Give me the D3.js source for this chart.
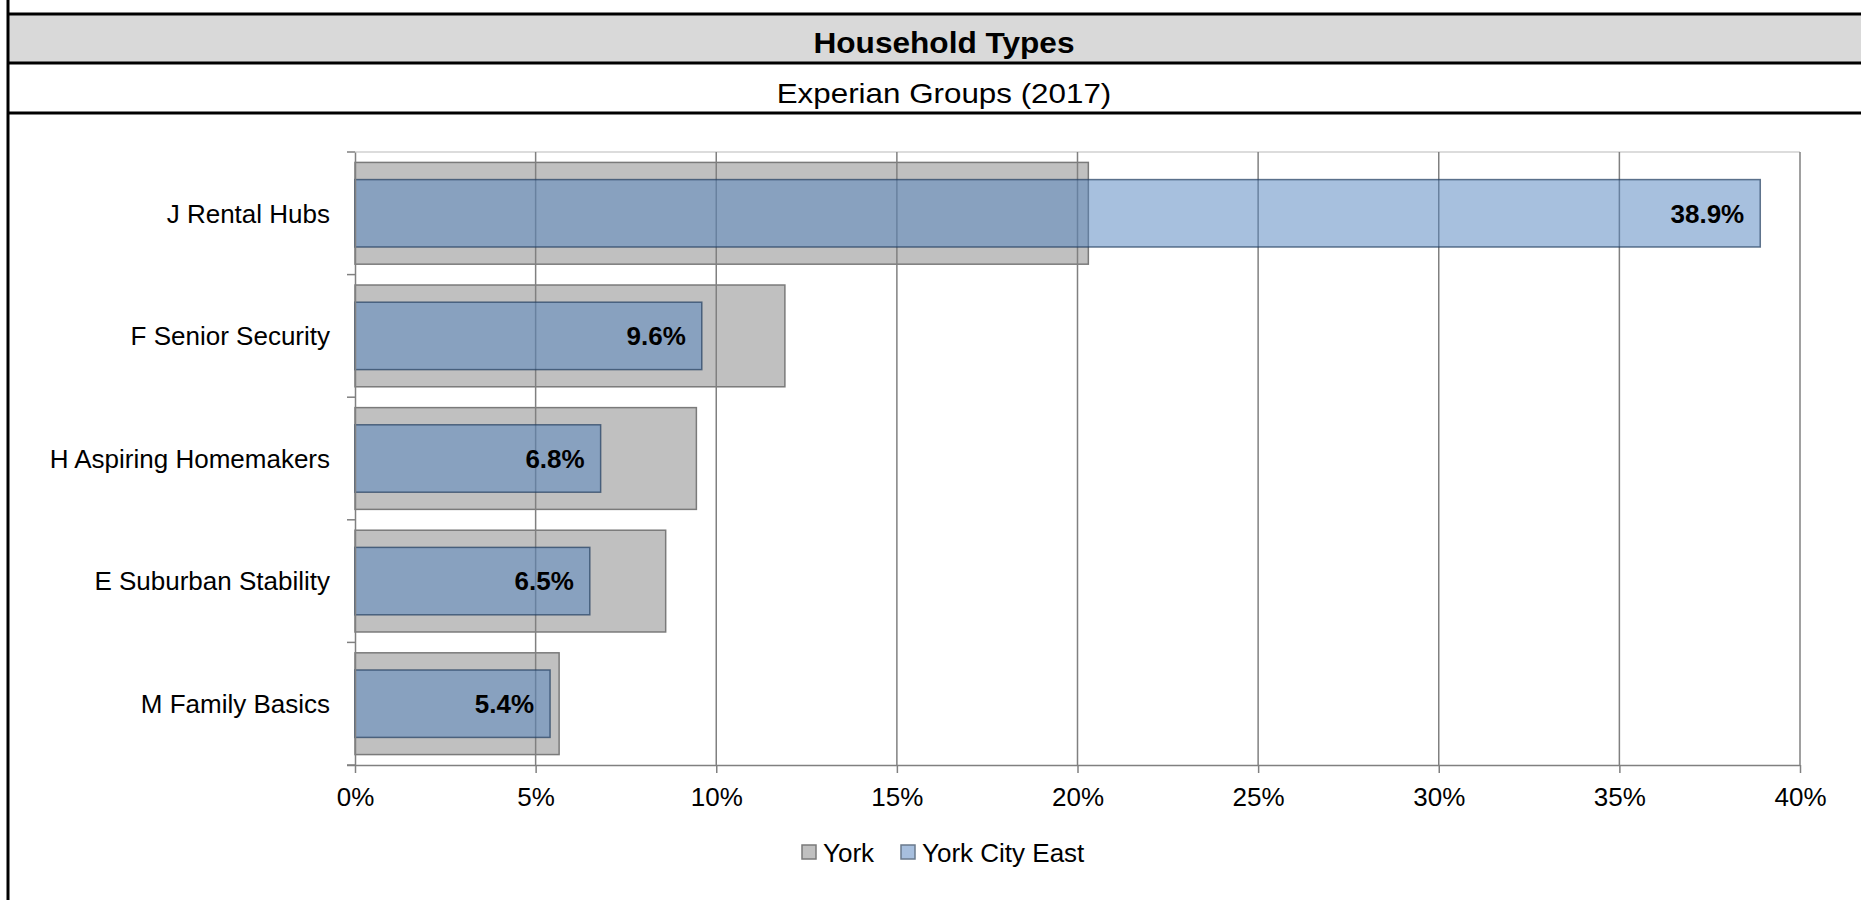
<!DOCTYPE html>
<html>
<head>
<meta charset="utf-8">
<script src="https://cdn.jsdelivr.net/npm/d3@7"></script>
<style>
  html, body { margin: 0; padding: 0; background: #fff; }
  svg { display: block; font-family: 'Liberation Sans', Arial, sans-serif; }
</style>
</head>
<body>
<div class="chart"></div>
<script>
'use strict'
// Data.
const categories = ['J Rental Hubs', 'F Senior Security', 'H Aspiring Homemakers', 'E Suburban Stability', 'M Family Basics'];
const yorkValues = [20.3, 11.9, 9.45, 8.6, 5.65];
const cityEastValues = [38.9, 9.6, 6.8, 6.5, 5.4];
const xTicks = [0, 5, 10, 15, 20, 25, 30, 35, 40];
const seriesNames = ['York', 'York City East'];

const W = 1861, H = 900;
const plot = {left: 355, right: 1800, top: 152, bottom: 765};

const svg = d3.select('.chart')
  .append('svg')
  .attr('width', W)
  .attr('height', H);

// HEADER BANDS
svg.append('rect')
  .attr('x', 8).attr('y', 14)
  .attr('width', W - 8).attr('height', 49)
  .style('fill', '#d9d9d9');

[14, 63, 113].forEach(y => {
  svg.append('line')
    .attr('x1', 8).attr('x2', W)
    .attr('y1', y).attr('y2', y)
    .style('stroke', '#000').style('stroke-width', 3);
});

svg.append('line')
  .attr('x1', 8).attr('x2', 8)
  .attr('y1', 0).attr('y2', H)
  .style('stroke', '#000').style('stroke-width', 3);

svg.append('text')
  .attr('transform', 'translate(944,53) scale(1.09,1)')
  .attr('text-anchor', 'middle')
  .style('font-size', '29px')
  .style('font-weight', 'bold')
  .text('Household Types');

svg.append('text')
  .attr('transform', 'translate(944,103) scale(1.12,1)')
  .attr('text-anchor', 'middle')
  .style('font-size', '28px')
  .text('Experian Groups (2017)');

// SCALES
const xScale = d3.scaleLinear([0, 40], [plot.left, plot.right]);
const yScale = d3.scaleBand(categories, [plot.top, plot.bottom])
  .paddingInner(0.17)
  .paddingOuter(0.085);
const yScale2 = d3.scaleBand(categories, [plot.top, plot.bottom])
  .paddingInner(0.45)
  .paddingOuter(0.225);

// PLOT TOP BORDER
svg.append('line')
  .attr('x1', plot.left).attr('x2', plot.right)
  .attr('y1', plot.top).attr('y2', plot.top)
  .style('stroke', '#d0d0d0').style('stroke-width', 1.5);

// YORK BARS
svg.selectAll('.bar-york')
  .data(categories)
  .enter()
  .append('rect')
  .attr('class', 'bar-york')
  .attr('x', xScale(0))
  .attr('y', d => yScale(d))
  .attr('width', (d, i) => xScale(yorkValues[i]) - xScale(0))
  .attr('height', yScale.bandwidth())
  .style('fill', '#c0c0c0')
  .style('stroke', '#7a7a7a')
  .style('stroke-width', 1.5);

// GRIDLINES
svg.append('g')
  .selectAll('line')
  .data(xTicks.slice(1))
  .enter()
  .append('line')
  .attr('x1', d => xScale(d)).attr('x2', d => xScale(d))
  .attr('y1', plot.top).attr('y2', plot.bottom)
  .style('stroke', '#808080')
  .style('stroke-width', 1.5);

// CITY EAST BARS
svg.selectAll('.bar-east')
  .data(categories)
  .enter()
  .append('rect')
  .attr('class', 'bar-east')
  .attr('x', xScale(0))
  .attr('y', d => yScale2(d))
  .attr('width', (d, i) => xScale(cityEastValues[i]) - xScale(0))
  .attr('height', yScale2.bandwidth())
  .style('fill', '#4f81bd')
  .style('fill-opacity', 0.5)
  .style('stroke', '#243f60')
  .style('stroke-opacity', 0.7)
  .style('stroke-width', 1.5);

// DATA LABELS
svg.selectAll('.label')
  .data(categories)
  .enter()
  .append('text')
  .attr('class', 'label')
  .attr('x', (d, i) => xScale(cityEastValues[i]) - 16)
  .attr('y', d => yScale2(d) + yScale2.bandwidth() / 2)
  .attr('dy', '0.36em')
  .attr('text-anchor', 'end')
  .style('font-size', '26px')
  .style('font-weight', 'bold')
  .text((d, i) => cityEastValues[i].toFixed(1) + '%');

// X AXIS
const xAxis = d3.axisBottom(xScale)
  .tickValues(xTicks)
  .tickFormat(d => d + '%')
  .tickSizeInner(8)
  .tickSizeOuter(0)
  .tickPadding(15);

const xAxisDraw = svg.append('g')
  .attr('transform', `translate(0, ${plot.bottom})`)
  .call(xAxis);
xAxisDraw.select('.domain')
  .attr('d', `M${plot.left - 8},0.5H${plot.right}`)
  .style('stroke', '#808080').style('stroke-width', 1.5);
xAxisDraw.selectAll('.tick line').style('stroke', '#808080').style('stroke-width', 1.5);
xAxisDraw.selectAll('text')
  .style('font-size', '26px')
  .style('font-family', "'Liberation Sans', Arial, sans-serif")
  .style('fill', '#000');

// Y AXIS
const yAxis = d3.axisLeft(yScale)
  .tickSize(0)
  .tickPadding(25);
const yAxisDraw = svg.append('g')
  .attr('transform', `translate(${plot.left}, 0)`)
  .call(yAxis);
yAxisDraw.select('.domain')
  .style('stroke', '#808080').style('stroke-width', 1.5);
yAxisDraw.selectAll('text')
  .attr('dy', '0.36em')
  .style('font-size', '26px')
  .style('font-family', "'Liberation Sans', Arial, sans-serif")
  .style('fill', '#000');

// category boundary ticks
yAxisDraw.selectAll('.bound')
  .data(d3.range(categories.length + 1))
  .enter()
  .append('line')
  .attr('class', 'bound')
  .attr('x1', -8).attr('x2', 0)
  .attr('y1', i => plot.top + i * yScale.step())
  .attr('y2', i => plot.top + i * yScale.step())
  .style('stroke', '#808080').style('stroke-width', 1.5);

// LEGEND
const legendItems = [
  {name: seriesNames[0], x: 802, fill: '#c0c0c0', stroke: '#7a7a7a'},
  {name: seriesNames[1], x: 901, fill: '#a7bfde', stroke: '#6a7a8c'}
];
const legend = svg.append('g').attr('class', 'legend');
legend.selectAll('rect')
  .data(legendItems)
  .enter()
  .append('rect')
  .attr('x', d => d.x)
  .attr('y', 845)
  .attr('width', 14)
  .attr('height', 14)
  .style('fill', d => d.fill)
  .style('stroke', d => d.stroke)
  .style('stroke-width', 1.5);
legend.selectAll('text')
  .data(legendItems)
  .enter()
  .append('text')
  .attr('x', d => d.x + 21)
  .attr('y', 862)
  .style('font-size', '26px')
  .text(d => d.name);
</script>
</body>
</html>
